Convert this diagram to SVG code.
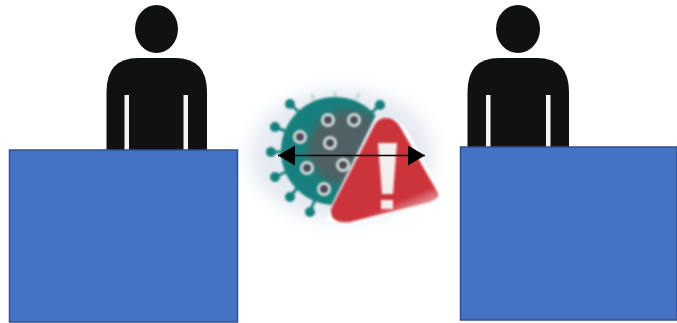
<svg xmlns="http://www.w3.org/2000/svg" width="677" height="323" viewBox="0 0 677 323">
<style>
.person{fill:#101211}
.gap{fill:#f4f4f4}
.box{fill:#4472c4;stroke:#2f528f;stroke-width:1.5}
.spike{stroke:#17807e;stroke-width:3;fill:none}
.spike-faint{stroke:#c3d6d4;stroke-width:3;fill:none}
.knob{fill:#17807e}
.pore{fill:#4a4a58;stroke:#d5e0da;stroke-width:3}
.conn{stroke:#000;stroke-width:1.5;fill:none}
</style>
<defs>
<filter id="soft" x="-10%" y="-10%" width="120%" height="120%" color-interpolation-filters="sRGB"><feGaussianBlur stdDeviation="0.5"/></filter>
<filter id="softer" x="-10%" y="-10%" width="120%" height="120%" color-interpolation-filters="sRGB"><feGaussianBlur stdDeviation="0.9"/></filter>
<filter id="wide" x="-30%" y="-30%" width="160%" height="160%" color-interpolation-filters="sRGB"><feGaussianBlur stdDeviation="4"/></filter>
<filter id="glow" x="-30%" y="-30%" width="160%" height="160%" color-interpolation-filters="sRGB"><feGaussianBlur stdDeviation="9"/></filter>
<linearGradient id="tri-fade" gradientUnits="userSpaceOnUse" x1="378" y1="180" x2="398" y2="226">
<stop offset="0" stop-color="#cc343c"/><stop offset="0.55" stop-color="#cc343c"/><stop offset="1" stop-color="#cc343c" stop-opacity="0.2"/>
</linearGradient>
<clipPath id="tri-cut"><path d="M262 80H393L325 218H262Z"/></clipPath>
<clipPath id="body-clip"><circle cx="335" cy="151" r="54"/></clipPath>
<marker id="head-end" markerUnits="userSpaceOnUse" markerWidth="18" markerHeight="20" refX="17" refY="10" orient="auto"><path d="M0 0L17 10L0 20Z" fill="#000"/></marker>
<marker id="head-start" markerUnits="userSpaceOnUse" markerWidth="18" markerHeight="20" refX="1" refY="10" orient="auto"><path d="M18 0L1 10L18 20Z" fill="#000"/></marker>
</defs>
<rect width="677" height="323" fill="#fff"/>

<g id="person-left" filter="url(#soft)">
<ellipse class="person" cx="156.500" cy="29" rx="21.500" ry="24"/>
<path class="person" d="M106.500 151V92Q106.500 58 138 58H175Q207 58 207 92V151Z"/>
<rect class="gap" x="124.500" y="95" width="4.500" height="56"/>
<rect class="gap" x="183.500" y="95" width="4.500" height="56"/>
</g>

<g id="person-right" filter="url(#soft)">
<ellipse class="person" cx="518" cy="29" rx="22" ry="24"/>
<path class="person" d="M467.500 148V92Q467.500 58 499 58H537Q569 58 569 92V148Z"/>
<rect class="gap" x="486" y="95" width="4.500" height="53"/>
<rect class="gap" x="546" y="95" width="4.500" height="53"/>
</g>

<g id="virus-warning">
<ellipse cx="342" cy="155" rx="92" ry="66" fill="#e4eaf1" filter="url(#glow)"/>
<g filter="url(#softer)">
<path class="spike-faint" d="M314 101L312 94M335 98V91M356 100L359 93"/>
<path class="spike" d="M299 112L290 104M288 132L275 127M284 152H271M288 171L275 177M298 187L290 197M315 200L310 211M370 114L380 105"/>
<circle class="knob" cx="290" cy="104" r="5"/>
<circle class="knob" cx="275" cy="127" r="5"/>
<circle class="knob" cx="271" cy="152" r="5"/>
<circle class="knob" cx="275" cy="177" r="5"/>
<circle class="knob" cx="290" cy="197" r="5"/>
<circle class="knob" cx="310" cy="212" r="5"/>
<circle class="knob" cx="380" cy="105" r="5"/>
<g clip-path="url(#tri-cut)">
<circle cx="335" cy="151" r="54" fill="#17807e"/>
<g clip-path="url(#body-clip)"><ellipse cx="349" cy="148" rx="41" ry="38" fill="#4f6164" filter="url(#wide)"/></g>
</g>
<circle class="pore" cx="328" cy="120" r="5.500"/>
<circle class="pore" cx="354" cy="120" r="5.500"/>
<circle class="pore" cx="300" cy="137" r="5.500"/>
<circle class="pore" cx="330" cy="143" r="5.500"/>
<circle class="pore" cx="307" cy="168" r="5.500"/>
<circle class="pore" cx="343" cy="165" r="5.500"/>
<circle class="pore" cx="324" cy="189" r="5.500"/>
<path d="M377 119L325 222H340L360 222L445 200L407 130L395 119Z" fill="#fff"/>
<path d="M386 118C394 118 399 124 403 132L438 193C440 198 436 199 430 202L350 222C336 224 328 217 332 207L374 126C377 120 381 118 386 118Z" fill="url(#tri-fade)"/>
<path d="M378 143H397L393 194H382Z" fill="#f4eded"/>
<rect x="381" y="200" width="12" height="9" fill="#f4eded"/>
</g>
</g>

<g id="box-left"><rect class="box" x="9.500" y="150" width="228" height="172"/></g>
<g id="box-right"><rect class="box" x="460.500" y="147" width="216.500" height="173"/></g>

<g id="connectors">
<line class="conn" x1="278" y1="155.500" x2="425" y2="155.500" marker-start="url(#head-start)" marker-end="url(#head-end)"/>
</g>
</svg>
